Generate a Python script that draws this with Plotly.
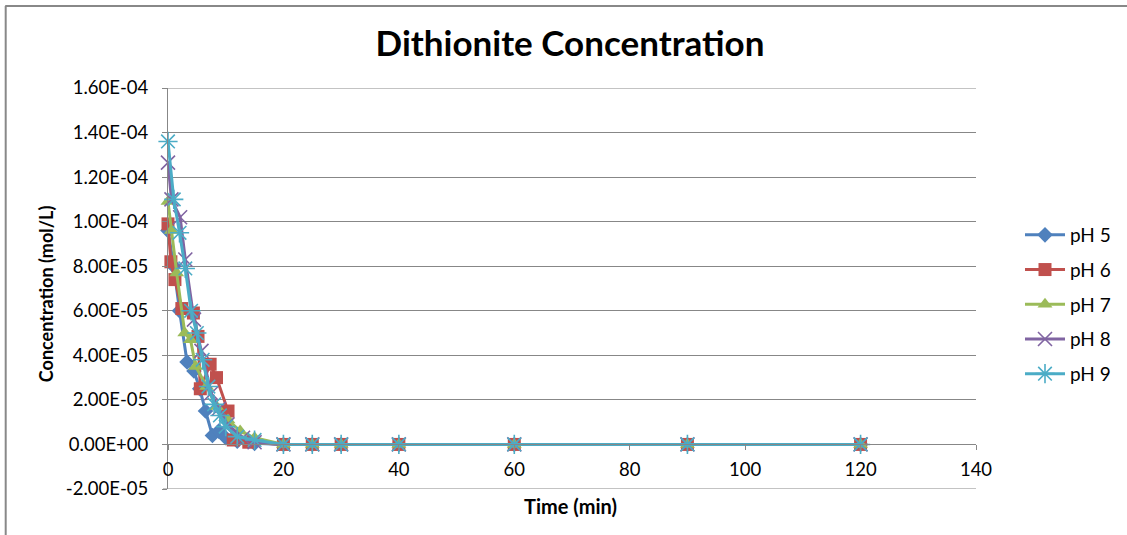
import plotly.graph_objects as go

# Dithionite concentration (mol/L) versus time (min) at five pH values
time_ph5 = [0, 1, 2, 3.3, 4.5, 5.5, 6.5, 7.7, 8.8, 10, 12, 15, 20, 25, 30, 40, 60, 90, 120]
conc_ph5 = [9.6e-5, 8.0e-5, 6.0e-5, 3.7e-5, 3.3e-5, 2.5e-5, 1.5e-5, 4.0e-6, 6.0e-6, 3.0e-6, 1.5e-6, 5e-7, 0, 0, 0, 0, 0, 0, 0]

time_ph6 = [0, 0.5, 1.2, 2.4, 4.4, 5.2, 5.6, 7.3, 8.4, 10.4, 11.3, 14, 20, 25, 30, 40, 60, 90, 120]
conc_ph6 = [9.9e-5, 8.2e-5, 7.4e-5, 6.1e-5, 5.9e-5, 4.85e-5, 2.5e-5, 3.6e-5, 3.0e-5, 1.5e-5, 2.0e-6, 1.0e-6, 0, 0, 0, 0, 0, 0, 0]

time_ph7 = [0, 0.6, 1.5, 2.9, 3.9, 4.8, 6.7, 8.4, 10.4, 12.5, 15, 20, 25, 30, 40, 60, 90, 120]
conc_ph7 = [1.09e-4, 9.6e-5, 7.7e-5, 5.0e-5, 4.7e-5, 3.5e-5, 2.6e-5, 1.7e-5, 1.1e-5, 6.0e-6, 3.0e-6, 0, 0, 0, 0, 0, 0, 0]

time_ph8 = [0, 0.6, 2.1, 3.0, 4.5, 5.8, 7.5, 8.8, 10.3, 13, 15, 20, 25, 30, 40, 60, 90, 120]
conc_ph8 = [1.265e-4, 1.10e-4, 1.02e-4, 8.3e-5, 5.6e-5, 4.2e-5, 2.3e-5, 1.6e-5, 9.0e-6, 3.0e-6, 1.0e-6, 0, 0, 0, 0, 0, 0, 0]

time_ph9 = [0, 1, 2, 3, 4, 5, 6, 7, 8, 9, 10, 12, 15, 20, 25, 30, 40, 60, 90, 120]
conc_ph9 = [1.36e-4, 1.10e-4, 9.5e-5, 7.9e-5, 6.0e-5, 5.0e-5, 3.8e-5, 2.6e-5, 1.8e-5, 1.3e-5, 8.0e-6, 3.5e-6, 2.0e-6, 0, 0, 0, 0, 0, 0, 0]

series_names = ["pH 5", "pH 6", "pH 7", "pH 8", "pH 9"]

x_tick_values = [0, 20, 40, 60, 80, 100, 120, 140]
y_tick_values = [-2e-5, 0, 2e-5, 4e-5, 6e-5, 8e-5, 1e-4, 1.2e-4, 1.4e-4, 1.6e-4]
y_tick_labels = ["-2.00E-05", "0.00E+00", "2.00E-05", "4.00E-05", "6.00E-05",
                 "8.00E-05", "1.00E-04", "1.20E-04", "1.40E-04", "1.60E-04"]

times = [time_ph5, time_ph6, time_ph7, time_ph8, time_ph9]
concs = [conc_ph5, conc_ph6, conc_ph7, conc_ph8, conc_ph9]

colors = ["#4F81BD", "#C0504D", "#9BBB59", "#8064A2", "#4BACC6"]
symbols = ["diamond", "square", "triangle-up", "x-thin-open", "asterisk-open"]
sizes = [12, 13, 13, 14, 16]

FONT = "Lato"
GRID = "#878787"
TICK_SIZE = 18.5

fig = go.Figure()
for i, name in enumerate(series_names):
    marker = dict(symbol=symbols[i], size=sizes[i], color=colors[i])
    if symbols[i].endswith("-open"):
        marker["line"] = dict(color=colors[i], width=1.6)
    fig.add_trace(go.Scatter(
        x=times[i], y=concs[i], name=name, mode="lines+markers",
        line=dict(color=colors[i], width=3),
        marker=marker, cliponaxis=False, legendgroup=name,
    ))

# plot area: x 168..977 px, y 88..489 px
L, R, T, B = 168, 977, 88, 489
W, H = 1127, 535
pw, ph = R - L, B - T


def px(x):
    return (x - L) / pw


def py(y):
    return (B - y) / ph


y_min, y_max = -2e-5, 1.6e-4

# gridlines at the two range ends, which the axis does not draw itself
edge_grid = [
    dict(type="line", xref="paper", yref="y", x0=px(163), x1=1, y0=v, y1=v,
         line=dict(color=GRID, width=1), layer="below")
    for v in (y_min, y_max)
]

fig.update_layout(
    width=W, height=H,
    margin=dict(l=L, r=W - R, t=T, b=H - B, pad=0),
    paper_bgcolor="white", plot_bgcolor="white",
    font=dict(family=FONT, size=17, color="#000000"),
    title=dict(text="<b>Dithionite Concentration</b>", x=570 / W, xanchor="center",
               y=1 - 44 / H, yanchor="middle", font=dict(family=FONT, size=35, color="#000000")),
    xaxis=dict(range=[0, 140], tickvals=x_tick_values, showgrid=False, zeroline=False,
               showline=True, linecolor=GRID, linewidth=1, ticks="outside", ticklen=5,
               tickcolor=GRID, anchor="free", position=(0 - y_min) / (y_max - y_min),
               ticklabelstandoff=3,
               tickfont=dict(family=FONT, size=TICK_SIZE, color="#000000")),
    yaxis=dict(range=[y_min, y_max], tickvals=y_tick_values, ticktext=y_tick_labels,
               showgrid=True, gridcolor=GRID, gridwidth=1, zeroline=False,
               showline=True, linecolor=GRID, linewidth=1, ticks="outside", ticklen=5,
               tickcolor=GRID, ticklabelstandoff=10,
               tickfont=dict(family=FONT, size=TICK_SIZE, color="#000000")),
    showlegend=True,
    legend=dict(x=px(1020), xanchor="left", y=py(216), yanchor="top",
                traceorder="grouped", tracegroupgap=7,
                font=dict(family=FONT, size=19, color="#000000"),
                bgcolor="rgba(0,0,0,0)", itemwidth=40),
    annotations=[
        dict(text="<b>Time (min)</b>", x=px(571), y=py(506), xref="paper", yref="paper",
             showarrow=False, xanchor="center", yanchor="middle",
             font=dict(family=FONT, size=20, color="#000000")),
        dict(text="<b>Concentration (mol/L)</b>", x=px(46), y=py(294), xref="paper", yref="paper",
             showarrow=False, xanchor="center", yanchor="middle", textangle=-90,
             font=dict(family=FONT, size=18, color="#000000")),
    ],
    shapes=edge_grid + [
        # outer chart frame (top and left edges)
        dict(type="line", xref="paper", yref="paper", x0=px(5), x1=px(W + 5), y0=py(6), y1=py(6),
             line=dict(color="#888888", width=2)),
        dict(type="line", xref="paper", yref="paper", x0=px(5.5), x1=px(5.5), y0=py(6), y1=py(H + 5),
             line=dict(color="#888888", width=2)),
    ],
)

fig.write_html("out.html")
